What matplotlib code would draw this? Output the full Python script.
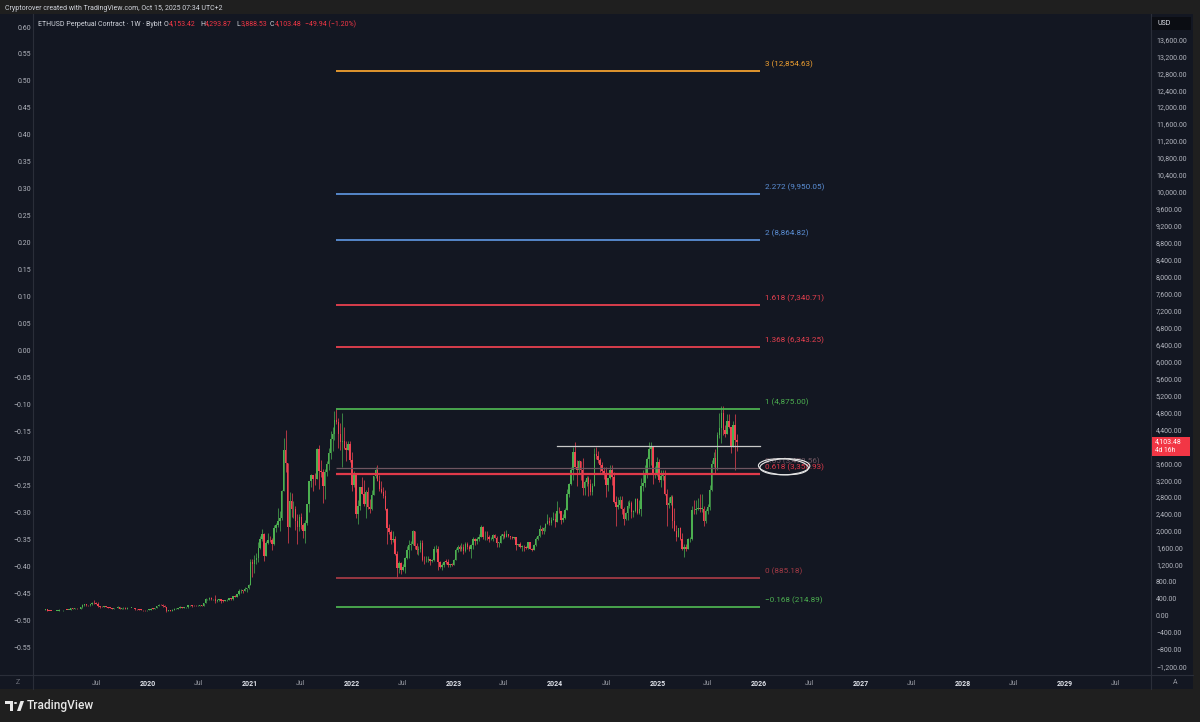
import numpy as np
import pandas as pd
import matplotlib
matplotlib.use('Agg')
import matplotlib.pyplot as plt
import matplotlib.dates as mdates
from matplotlib.patches import Rectangle, Ellipse, Polygon, Circle

plt.rcParams['font.family'] = ['Roboto', 'DejaVu Sans']

W, H = 1200, 722

# ---------------- data (weekly candles: high, low, close) ----------------
first_open = 133.0
first_week = '2018-12-31'

weeks_2019 = [
    (162, 131, 155), (158, 116, 118), (125, 114, 117), (122, 112, 115), (117, 102, 107),
    (124, 104, 120), (125, 116, 123), (165, 122, 138), (139, 130, 134), (138, 125, 134),
    (140, 129, 138), (141, 133, 137), (143, 133, 141), (185, 140, 177), (185, 160, 166),
    (180, 163, 172), (178, 152, 158), (166, 155, 162), (200, 160, 197), (280, 195, 245),
    (275, 233, 268), (290, 235, 250), (252, 224, 245), (270, 235, 268), (315, 265, 310),
    (362, 280, 292), (318, 270, 290), (315, 196, 225), (235, 190, 215), (225, 200, 206),
    (235, 205, 222), (238, 205, 210), (215, 175, 195), (200, 182, 187), (195, 165, 172),
    (182, 168, 180), (190, 175, 188), (222, 185, 214), (216, 155, 169), (185, 160, 177),
    (200, 165, 190), (198, 165, 168), (197, 155, 183), (187, 176, 185), (192, 180, 185),
    (191, 175, 183), (185, 142, 152), (157, 137, 150), (153, 141, 148), (150, 140, 142),
    (145, 116, 132), (135, 122, 127),
]
weeks_2020 = [
    (145, 125, 143), (150, 135, 145), (175, 140, 170), (174, 155, 167), (185, 164, 180),
    (225, 178, 223), (288, 220, 265), (285, 245, 250), (275, 215, 230), (255, 200, 201),
    (205, 90, 125), (145, 105, 132), (145, 120, 125), (155, 125, 143), (175, 140, 158),
    (180, 150, 171), (195, 165, 194), (227, 190, 211), (217, 180, 187), (212, 180, 200),
    (215, 195, 203), (248, 195, 244), (253, 225, 245), (250, 218, 233), (245, 225, 228),
    (245, 220, 225), (245, 223, 240), (250, 233, 240), (245, 232, 236), (310, 234, 305),
    (415, 300, 390), (400, 370, 396), (445, 375, 430), (445, 380, 395), (400, 375, 395),
    (490, 310, 353), (385, 330, 375), (395, 360, 385), (385, 310, 355), (365, 330, 350),
    (378, 338, 368), (385, 360, 377), (420, 365, 410), (415, 370, 385), (475, 380, 460),
    (480, 442, 455), (520, 455, 510), (625, 480, 575), (630, 545, 590), (600, 535, 588),
    (675, 580, 640), (665, 560, 650), (760, 630, 735),
]
weeks_2021 = [
    (1350, 715, 1260), (1350, 920, 1230), (1440, 1000, 1320), (1475, 1220, 1370), (1750, 1270, 1610),
    (1880, 1580, 1810), (2045, 1760, 1935), (1945, 1290, 1420), (1760, 1410, 1720), (1950, 1700, 1790),
    (1880, 1735, 1780), (1830, 1550, 1690), (2150, 1680, 2080), (2200, 1980, 2140), (2550, 2100, 2240),
    (2480, 2000, 2310), (2970, 2250, 2950), (4190, 2950, 3920), (4380, 3400, 3600), (3600, 1720, 2100),
    (2910, 2100, 2700), (2890, 2340, 2510), (2700, 2300, 2510), (2600, 2030, 2240), (2400, 1700, 2090),
    (2390, 1990, 2320), (2420, 2050, 2140), (2180, 1830, 1990), (2250, 1720, 2190), (2630, 2150, 2630),
    (3190, 2450, 3190), (3340, 3050, 3310), (3330, 2950, 3230), (3375, 3075, 3225), (3950, 3220, 3940),
    (4030, 3000, 3410), (3670, 3270, 3400), (3460, 2650, 3060), (3460, 2750, 3390), (3650, 3300, 3570),
    (3950, 3450, 3840), (4370, 3700, 4170), (4460, 3890, 4290), (4820, 4150, 4610), (4870, 4520, 4570),
    (4660, 3950, 4300), (4550, 3920, 4090), (4780, 3500, 4120), (4460, 3930, 3960), (4130, 3640, 3920),
    (4130, 3900, 4050), (4120, 3620, 3680),
]
weeks_2022 = [
    (3870, 2950, 3080), (3420, 3050, 3330), (3370, 2300, 2400), (2730, 2160, 2590), (3050, 2500, 3030),
    (3280, 2870, 2880), (3200, 2600, 2630), (2960, 2300, 2920), (3050, 2520, 2560), (2760, 2430, 2520),
    (2970, 2500, 2860), (3300, 2850, 3290), (3500, 3240, 3450), (3550, 3170, 3180), (3320, 2950, 3000),
    (3190, 2900, 2920), (3040, 2770, 2830), (2960, 2500, 2520), (2540, 1700, 2080), (2160, 1920, 1970),
    (2030, 1700, 1780), (2000, 1740, 1800), (1880, 1440, 1450), (1530, 880, 1130), (1300, 1020, 1240),
    (1280, 990, 1070), (1230, 1050, 1160), (1380, 1000, 1360), (1650, 1330, 1550), (1780, 1360, 1680),
    (1760, 1560, 1700), (2030, 1670, 1990), (2010, 1580, 1640), (1720, 1460, 1550), (1650, 1430, 1570),
    (1790, 1510, 1720), (1790, 1300, 1320), (1410, 1220, 1310), (1410, 1260, 1310), (1400, 1280, 1330),
    (1340, 1190, 1300), (1340, 1260, 1310), (1650, 1290, 1570), (1680, 1500, 1570), (1650, 1070, 1260),
    (1290, 1130, 1140), (1240, 1075, 1200), (1300, 1150, 1280), (1350, 1230, 1270), (1350, 1150, 1190),
    (1230, 1160, 1220), (1240, 1180, 1210),
]
weeks_2023 = [
    (1350, 1190, 1320), (1600, 1320, 1550), (1680, 1510, 1630), (1660, 1530, 1580), (1710, 1520, 1630),
    (1690, 1460, 1520), (1740, 1500, 1690), (1740, 1570, 1630), (1680, 1540, 1565), (1700, 1370, 1680),
    (1850, 1570, 1800), (1840, 1670, 1760), (1850, 1690, 1810), (1940, 1770, 1860), (2140, 1850, 2090),
    (2120, 1800, 1850), (2000, 1780, 1870), (1990, 1780, 1850), (1900, 1740, 1800), (1860, 1780, 1820),
    (1930, 1760, 1900), (1930, 1840, 1840), (1880, 1630, 1720), (1750, 1630, 1720), (1930, 1710, 1880),
    (1940, 1820, 1930), (1990, 1830, 1870), (2030, 1850, 1940), (1940, 1860, 1890), (1890, 1820, 1870),
    (1880, 1810, 1830), (1870, 1800, 1850), (1850, 1560, 1670), (1700, 1640, 1700), (1745, 1610, 1630),
    (1660, 1540, 1630), (1660, 1530, 1620), (1650, 1570, 1590), (1750, 1580, 1730), (1750, 1570, 1580),
    (1600, 1520, 1560), (1700, 1550, 1660), (1860, 1650, 1800), (1910, 1780, 1880), (2140, 1860, 2050),
    (2100, 1930, 2010), (2100, 1930, 2060), (2200, 2000, 2170), (2400, 2170, 2240), (2340, 2150, 2200),
    (2340, 2150, 2270), (2450, 2250, 2280),
]
weeks_2024 = [
    (2430, 2100, 2220), (2710, 2220, 2480), (2560, 2420, 2470), (2480, 2170, 2270), (2390, 2220, 2300),
    (2540, 2280, 2500), (2980, 2490, 2880), (3130, 2800, 3110), (3520, 3080, 3450), (3990, 3200, 3870),
    (4090, 3570, 3520), (3680, 3060, 3450), (3680, 3380, 3640), (3660, 3200, 3450), (3720, 2850, 3010),
    (3200, 2860, 3150), (3290, 3060, 3260), (3300, 2820, 3120), (3220, 2860, 2930), (3130, 2860, 3070),
    (3950, 3060, 3820), (3980, 3700, 3780), (3880, 3600, 3680), (3720, 3400, 3560), (3620, 3350, 3420),
    (3500, 3230, 3380), (3520, 2800, 3080), (3240, 2950, 3240), (3560, 3220, 3440), (3550, 3090, 3280),
    (3400, 2650, 2690), (2820, 2110, 2560), (2800, 2520, 2610), (2820, 2550, 2740), (2830, 2400, 2530),
    (2560, 2150, 2280), (2450, 2250, 2420), (2700, 2270, 2580), (2730, 2550, 2650), (2700, 2300, 2440),
    (2500, 2320, 2470), (2770, 2450, 2750), (2770, 2390, 2430), (2720, 2410, 2510), (3250, 2360, 3070),
    (3450, 2950, 3130), (3560, 3030, 3360), (3740, 3260, 3700), (4100, 3500, 3940), (4110, 3550, 3980),
    (4000, 3100, 3330), (3540, 3250, 3350),
]
weeks_2025 = [
    (3750, 3300, 3630), (3700, 3160, 3210), (3450, 3030, 3300), (3450, 3200, 3300), (3430, 2850, 2870),
    (3000, 2120, 2620), (2800, 2550, 2660), (2850, 2620, 2810), (2840, 2080, 2230), (2550, 2000, 2010),
    (2150, 1760, 1870), (2070, 1860, 2080), (2100, 1790, 1820), (1950, 1550, 1580), (1690, 1380, 1620),
    (1690, 1540, 1580), (1830, 1570, 1800), (1870, 1750, 1810), (2600, 1780, 2500), (2740, 2400, 2490),
    (2730, 2400, 2530), (2790, 2490, 2530), (2880, 2460, 2520), (2880, 2440, 2530), (2600, 2120, 2230),
    (2520, 2200, 2480), (2640, 2400, 2570), (3080, 2500, 2970), (3680, 2950, 3580), (3860, 3500, 3720),
    (3940, 3350, 3490), (4330, 3450, 4260), (4790, 4200, 4440), (4950, 4080, 4780), (4950, 4260, 4390),
    (4500, 4210, 4300), (4770, 4280, 4600), (4770, 4440, 4460), (4460, 3830, 4000), (4600, 3980, 4510),
    (4760, 3440, 4153.42), (4293.87, 3888.53, 4103.48),
]

# Fibonacci levels (ratio, price) and drawn ray
fib_ratios = [3, 2.272, 2, 1.618, 1.368, 1, 0.65, 0.618, 0, -0.168]
fib_prices = [12854.63, 9950.05, 8864.82, 7340.71, 6343.25, 4875.00, 3478.56, 3350.93, 885.18, 214.89]
fib_colors = ['#f0a030', '#5b8fd6', '#5b8fd6', '#e8404f', '#e8404f', '#4caf50',
              '#6e5560', '#e03a4a', '#a33a45', '#4caf50']
fib_start, fib_end = '2021-11-08', '2026-01-05'
ray_price, ray_start = 4000.0, '2024-01-08'

left_ticks = [0.60, 0.55, 0.50, 0.45, 0.40, 0.35, 0.30, 0.25, 0.20, 0.15, 0.10, 0.05, 0.00,
              -0.05, -0.10, -0.15, -0.20, -0.25, -0.30, -0.35, -0.40, -0.45, -0.50, -0.55]
# 4,000 is hidden behind the last-price marker, as in TradingView
right_ticks = [v for v in range(-1200, 13601, 400) if v != 4000]

header = "Cryptorover created with TradingView.com, Oct 15, 2025 07:34 UTC+2"
legend_title = "ETHUSD Perpetual Contract · 1W · Bybit"
last_ohlc = [("O", "4,153.42"), ("H", "4,293.87"), ("L", "3,888.53"), ("C", "4,103.48")]
last_change = "\u221249.94 (\u22121.20%)"
last_price = 4103.48
countdown = "4d 16h"

# ---------------- build arrays ----------------
weekly = weeks_2019 + weeks_2020 + weeks_2021 + weeks_2022 + weeks_2023 + weeks_2024 + weeks_2025
high = np.array([w[0] for w in weekly], float)
low = np.array([w[1] for w in weekly], float)
close = np.array([w[2] for w in weekly], float)
opn = np.concatenate([[first_open], close[:-1]])
dates = pd.date_range(first_week, periods=len(weekly), freq='7D')
xd = mdates.date2num(dates.to_pydatetime())

# ---------------- figure ----------------
NAVY = '#131722'
FRAME = '#1f1f1f'
GRID = '#2a2e39'
TXT = '#b2b5be'
UP, DOWN = '#4caf50', '#ef4452'

fig = plt.figure(figsize=(W / 100, H / 100), dpi=100, facecolor=FRAME)


def fx(x):
    return x / W


def fy(y):
    return 1 - y / H


def frect(x0, y0, x1, y1, **kw):
    fig.patches.append(Rectangle((fx(x0), fy(y1)), (x1 - x0) / W, (y1 - y0) / H,
                                 transform=fig.transFigure, **kw))


frect(0, 14, 1193, 689, facecolor=NAVY, edgecolor='none', zorder=-5)

ax = fig.add_axes([fx(33), fy(675), (1151 - 33) / W, (675 - 15) / H])
ax.set_facecolor(NAVY)
for s in ax.spines.values():
    s.set_visible(False)

d2020 = mdates.date2num(pd.Timestamp('2020-01-01'))
ax.set_xlim(d2020 - 410.2, d2020 + 3595.5)
ax.set_ylim(-1396.5, 14172.9)

# candles
up = close >= opn
cols = np.where(up, UP, DOWN)
ax.vlines(xd, np.minimum(low, np.minimum(opn, close)), np.maximum(high, np.maximum(opn, close)),
          colors=cols, lw=0.5, zorder=3)
body_lo = np.minimum(opn, close)
body_h = np.maximum(np.abs(close - opn), 12)
ax.bar(xd, body_h, bottom=body_lo, width=5.4, color=cols, linewidth=0, zorder=4)

# fib levels
xs = mdates.date2num(pd.Timestamp(fib_start))
xe = mdates.date2num(pd.Timestamp(fib_end))
for r, p, c in zip(fib_ratios, fib_prices, fib_colors):
    lw = 1.6 if r == 0.618 else (0.9 if r == 0.65 else 1.3)
    ax.plot([xs, xe], [p, p], color=c, lw=lw, zorder=5, solid_capstyle='butt')
    rs = f"{r:g}".replace('-', '\u2212')
    ax.annotate(f"{rs} ({p:,.2f})", xy=(xe, p), xytext=(3.6, 5.0), textcoords='offset points',
                color=c, fontsize=5.9, va='center', ha='left', zorder=6)

# white ray
ax.plot([mdates.date2num(pd.Timestamp(ray_start)), xe], [ray_price, ray_price],
        color='#c9c9c9', lw=0.9, zorder=5)

# ellipse around 0.618 label
i618 = fib_ratios.index(0.618)
ex, ey = ax.transData.transform((xe, fib_prices[i618]))
ex += 23
ey += 7
for ang, dx in [(-3, 0), (2, 1.5)]:
    e = Ellipse((ex + dx, ey), 50, 16, angle=ang, transform=None, fill=False,
                edgecolor='#e6e6e6', lw=0.8, zorder=7)
    fig.patches.append(e)

# x ticks
xt, xl = [], []
for yr in range(2019, 2030):
    if yr >= 2020:
        xt.append(mdates.date2num(pd.Timestamp(f'{yr}-01-01')))
        xl.append(str(yr))
    xt.append(mdates.date2num(pd.Timestamp(f'{yr}-07-01')))
    xl.append('Jul')
ax.set_xticks(xt)
ax.set_xticklabels(xl)
ax.tick_params(axis='x', length=0, pad=3.8, labelsize=5.0)
for t in ax.get_xticklabels():
    if t.get_text() == 'Jul':
        t.set_color('#9598a1')
    else:
        t.set_color('#e0e3eb')
        t.set_fontweight('bold')

# left (overlay) scale
axl = ax.twinx()
axl.set_ylim(-0.6019, 0.6223)
axl.yaxis.tick_left()
axl.set_yticks(left_ticks)
axl.set_yticklabels([f"{v:.2f}".replace('-', '\u2212') for v in left_ticks])
axl.tick_params(axis='y', length=0, pad=1.6, labelsize=5.0, colors=TXT)
for s in axl.spines.values():
    s.set_visible(False)

# right price scale (after twinx, which moves ticks)
ax.yaxis.tick_right()
ax.set_yticks(right_ticks)
ax.set_yticklabels([f"{v:,.2f}".replace('-', '\u2212') for v in right_ticks])
ax.tick_params(axis='y', which='both', left=False, labelleft=False, right=False, labelright=True,
               length=0, pad=3.6, labelsize=5.0, colors=TXT)

# separators
fig.lines.append(plt.Line2D([fx(33), fx(33)], [fy(14), fy(689)], transform=fig.transFigure, color=GRID, lw=0.8))
fig.lines.append(plt.Line2D([fx(1151), fx(1151)], [fy(14), fy(689)], transform=fig.transFigure, color=GRID, lw=0.8))
fig.lines.append(plt.Line2D([0, fx(1193)], [fy(675), fy(675)], transform=fig.transFigure, color=GRID, lw=0.8))

# last price box
_, py = ax.transData.transform((xe, last_price))
img_y = H - py
frect(1152, img_y - 5, 1190, img_y + 14, facecolor='#f23645', edgecolor='none', zorder=10)
fig.text(fx(1155), fy(img_y), f"{last_price:,.2f}", color='white', fontsize=5.0, va='center', zorder=11)
fig.text(fx(1155), fy(img_y + 9), countdown, color='white', fontsize=4.8, va='center', zorder=11)

# USD box
frect(1152, 17, 1191, 30, facecolor='#0b0d13', edgecolor='none', zorder=10)
fig.text(fx(1157), fy(23.5), "USD", color='#e0e3eb', fontsize=5.0, va='center', zorder=11)

# axis corner icons
fig.text(fx(18), fy(683), "Z", color='#6a6d78', fontsize=5, va='center', ha='center')
fig.text(fx(1175), fy(683), "A", color='#9598a1', fontsize=5.0, va='center', ha='center')

# header and legend
fig.text(fx(5), fy(9), header, color='#d1d4dc', fontsize=5.05, va='center')
fig.text(fx(38), fy(24), legend_title, color='#d1d4dc', fontsize=5.0, va='center')
lx = [164, 200, 236, 270]
for (k, v), x0 in zip(last_ohlc, lx):
    fig.text(fx(x0), fy(24), k, color='#d1d4dc', fontsize=5.0, va='center')
    fig.text(fx(x0 + 5), fy(24), v, color='#f23645', fontsize=5.0, va='center')
fig.text(fx(305), fy(24), last_change, color='#f23645', fontsize=5.0, va='center')

# TradingView logo
fig.text(fx(27), fy(706), "TradingView", color='#e8e8e8', fontsize=8.6, va='center', fontweight='medium')


def fpoly(pts, **kw):
    fig.patches.append(Polygon([(fx(a), fy(b)) for a, b in pts], closed=True,
                               transform=fig.transFigure, **kw))


fpoly([(5, 701), (13, 701), (13, 711), (10, 711), (10, 704), (5, 704)], facecolor='#e8e8e8', edgecolor='none')
fig.patches.append(Circle((fx(15.5), fy(703)), 1.6 / W, transform=fig.transFigure,
                          facecolor='#e8e8e8', edgecolor='none'))
fpoly([(17, 711), (20.5, 701), (24, 701), (20.5, 711)], facecolor='#e8e8e8', edgecolor='none')

fig.savefig('out.png', dpi=100, facecolor=FRAME)
